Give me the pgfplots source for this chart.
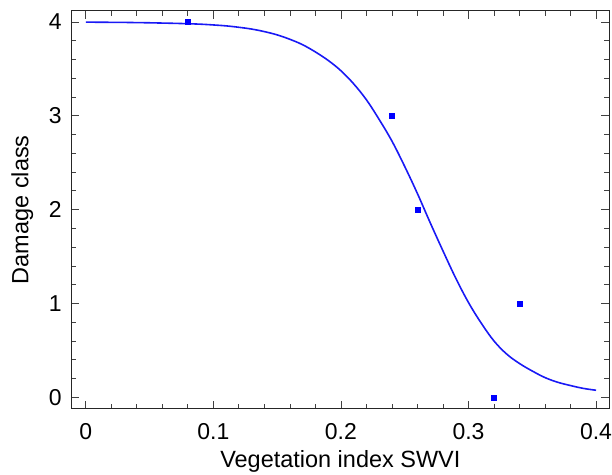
\documentclass[border=0pt]{standalone}
\usepackage{fontspec}
\setmainfont{Liberation Sans}
\usepackage{pgfplots}
\pgfplotsset{compat=1.18}
\definecolor{fitblue}{RGB}{25,25,245}
\definecolor{ptblue}{RGB}{0,0,255}
\begin{document}
\begin{tikzpicture}
\begin{axis}[
  scale only axis, width=538.5bp, height=398.6bp,
  xmin=-0.0113, xmax=0.4104, ymin=-0.123, ymax=4.12,
  xtick={0,0.1,0.2,0.3,0.4}, ytick={0,1,2,3,4},
  minor x tick num=4, minor y tick num=4,
  tick align=inside, major tick length=8bp, minor tick length=5bp,
  every tick/.style={black!75, line width=0.8bp},
  axis line style={black!85, line width=0.9bp},
  /pgf/number format/assume math mode=true,
  xticklabel style={/pgf/number format/fixed, inner sep=0pt, anchor=north, yshift=-14.7bp},
  yticklabel style={inner sep=0pt, anchor=east, xshift=-9.5bp},
  every tick label/.append style={font=\fontsize{23bp}{27bp}\selectfont},
  xlabel={Vegetation index SWVI}, ylabel={Damage class},
  xlabel style={font=\fontsize{23.5bp}{27bp}\selectfont, at={(axis description cs:0.5,0)}, anchor=north, inner sep=0pt, yshift=-41.7bp},
  ylabel style={font=\fontsize{23.5bp}{27bp}\selectfont, at={(axis description cs:-0.0799,0.5)}, anchor=base, inner sep=0pt},
  clip=false,
]
\addplot[fitblue, line width=1.6bp, smooth, tension=0.6] coordinates {
(0.00,3.998) (0.01,3.997) (0.02,3.996) (0.03,3.995) (0.04,3.993) (0.05,3.991)
(0.06,3.988) (0.07,3.985) (0.08,3.981) (0.09,3.976) (0.10,3.968) (0.11,3.958)
(0.12,3.943) (0.13,3.924) (0.14,3.897) (0.15,3.862) (0.16,3.815) (0.17,3.757)
(0.18,3.680) (0.19,3.590) (0.20,3.480) (0.21,3.340) (0.22,3.170) (0.23,2.960)
(0.24,2.730) (0.25,2.460) (0.26,2.170) (0.27,1.860) (0.28,1.560) (0.29,1.270)
(0.30,1.010) (0.31,0.790) (0.32,0.600) (0.33,0.460) (0.34,0.360) (0.35,0.280)
(0.36,0.210) (0.37,0.160) (0.38,0.125) (0.39,0.095) (0.40,0.075)
};
\addplot[only marks, mark=square*, mark size=2.5bp, ptblue, mark options={draw=ptblue, fill=ptblue}] coordinates {
(0.08,4) (0.24,3) (0.26,2) (0.32,0) (0.34,1)
};
\end{axis}
\path ([xshift=-71.5bp,yshift=-65.7bp]current axis.south west) rectangle ([xshift=2bp,yshift=10.7bp]current axis.north east);
\end{tikzpicture}
\end{document}
